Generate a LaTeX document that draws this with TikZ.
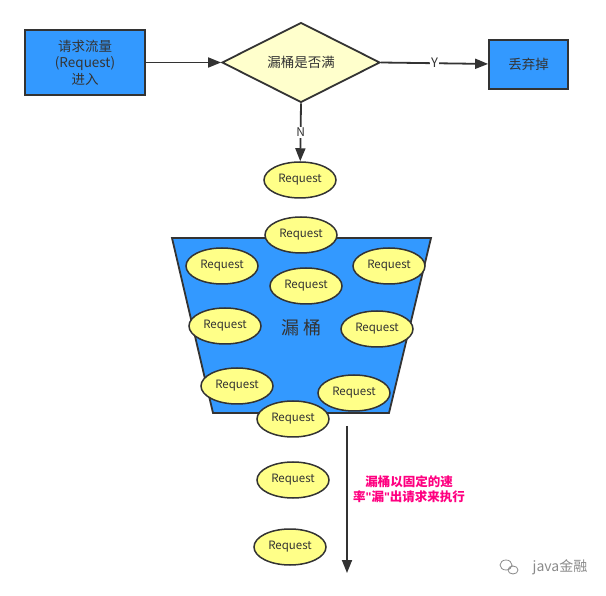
\documentclass[tikz,border=0pt]{standalone}
\usepackage{fontspec}
\setmainfont{Noto Sans CJK SC}
\newfontfamily\quotefont{Liberation Sans}
\newcommand{\dq}{{\quotefont\symbol{34}}}
\usetikzlibrary{shapes.geometric,arrows.meta}
\definecolor{boxblue}{HTML}{3399FF}
\definecolor{pale}{HTML}{FFFFCC}
\definecolor{reqyellow}{HTML}{FFFF88}
\definecolor{edge}{HTML}{333333}
\definecolor{rate}{HTML}{FF0080}
\definecolor{wmgray}{HTML}{8A8A8A}
\begin{document}
\begin{tikzpicture}[x=1pt,y=-1pt,
		box/.style = {draw=edge, line width=1.8pt, fill=boxblue, text=edge, align=center, inner sep=0pt, font=\fontsize{13.5}{16.5}\selectfont},
		check/.style = {draw=edge, line width=1.8pt, fill=pale, diamond, inner sep=0pt, minimum width=158pt, minimum height=75pt, text=edge, font=\fontsize{13.5}{16}\selectfont},
		req/.style = {draw=edge, line width=1.5pt, fill=reqyellow, ellipse, inner sep=0pt, minimum width=72pt, minimum height=36pt, text=edge, font=\fontsize{11.5}{13}\selectfont},
		flow/.style = {draw=edge, line width=1.8pt, -{Triangle[length=13pt,width=10pt]}}]
			\useasboundingbox (0,0) rectangle (606,596);
			\node[box, minimum width=120pt, minimum height=65pt] (input) at (85,62.5) {请求流量\\(Request)\\进入};
			\node[check] (full) at (301,62.5) {漏桶是否满};
			\node[box, minimum width=79pt, minimum height=49pt] (discard) at (528.5,64.5) {丢弃掉};

			\filldraw[draw=edge, line width=1.8pt, fill=boxblue] (172,238) -- (431,238) -- (389,413) -- (213,413) -- cycle;
			\node[text=edge, font=\fontsize{18}{20}\selectfont] (bucket) at (302,328) {漏 桶};

			\node[req] (r1) at (300,180) {Request};
			\node[req] (r2) at (301,235) {Request};
			\node[req] (r3) at (222,266) {Request};
			\node[req] (r4) at (389,266) {Request};
			\node[req] (r5) at (306,286) {Request};
			\node[req] (r6) at (225,326) {Request};
			\node[req] (r7) at (377,329) {Request};
			\node[req] (r8) at (237,386) {Request};
			\node[req] (r9) at (354,393) {Request};
			\node[req] (r10) at (293,419) {Request};
			\node[req] (r11) at (293,480) {Request};
			\node[req] (r12) at (290,547) {Request};

			\coordinate (outtop) at (347,426);
			\coordinate (outend) at (347,573);
			\node[text=rate, align=center, font=\bfseries\fontsize{12.5}{15.5}\selectfont] (rate) at (409,489) {漏桶以固定的速\\率\dq 漏\dq 出请求来执行};
			\node[text=wmgray, font=\fontsize{14}{16}\selectfont] (wm) at (560,567) {java金融};
			\draw[wmgray, line width=0.8pt] (506,565) ellipse (6pt and 5pt) (513,570) ellipse (5pt and 4pt);

			\draw[flow] (input) to (full);
			\draw[flow] (full.east) to node[fill=white, inner sep=1pt, text=edge, font=\fontsize{13}{15}\selectfont] {Y} (discard);
			\draw[flow] (full.south) to node[fill=white, inner sep=1pt, text=edge, font=\fontsize{12}{14}\selectfont] {N} (r1);
			\draw[flow] (outtop) to (outend);
		\end{tikzpicture}
\end{document}
